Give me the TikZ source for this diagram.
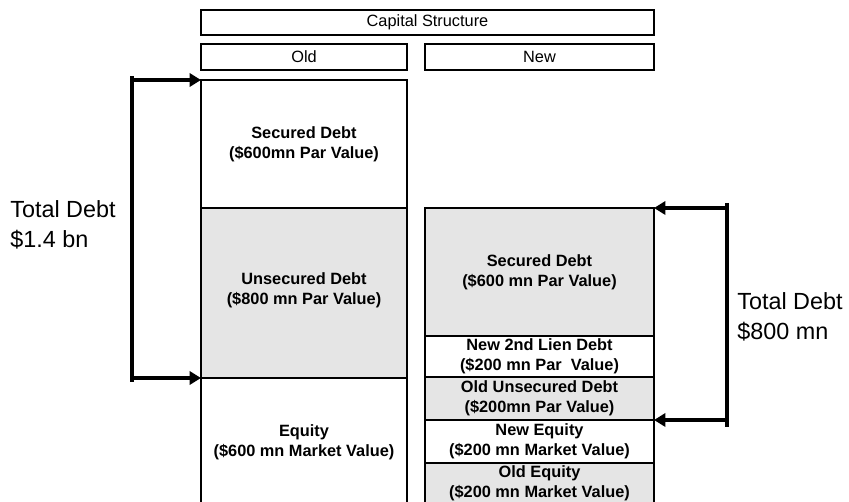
\documentclass[tikz,border=0pt]{standalone}
\usepackage{fontspec}
\setmainfont{Liberation Sans}
\usetikzlibrary{positioning,arrows.meta}

\definecolor{shade}{RGB}{229,229,229}

\tikzset{
	col/.style={draw,line width=0.9pt},
	head/.style={draw,line width=1.3pt},
	txt/.style={align=center,inner sep=0pt,font=\fontsize{9.3}{11.4}\selectfont\bfseries},
	htxt/.style={inner sep=0pt,font=\fontsize{9.3}{11}\selectfont},
	big/.style={align=left,inner sep=0pt,anchor=west,font=\fontsize{13.3}{17}\selectfont},
	bar/.style={line width=2.3pt},
	arr/.style={line width=2.3pt,-{Triangle[length=6.5pt,width=7.5pt]}}
}

\begin{document}
\begin{tikzpicture}[x=0.02cm,y=-0.02cm]
	\useasboundingbox (0,0) rectangle (849,502);
	\clip (0,0) rectangle (849,502);
	
	% headers
	\draw[head] (201,10) rectangle (654,35) node[midway,htxt] (cap) {Capital Structure};
	\draw[head] (201,44) rectangle (407,70) node[midway,htxt] (old) {Old};
	\draw[head] (425,44) rectangle (654,70) node[midway,htxt] (new) {New};
	
	% old structure
	\draw[col] (201,80) rectangle (407,208) node[midway,txt] (osec) {Secured Debt\\(\$600mn Par Value)};
	\draw[col,fill=shade] (201,208) rectangle (407,378) node[midway,txt,yshift=0.06cm] (ouns) {Unsecured Debt\\(\$800 mn Par Value)};
	\draw[col] (201,378) rectangle (407,510);
	\node[txt] (oeq) at (304,442) {Equity\\(\$600 mn Market Value)};
	
	% new structure
	\draw[col,fill=shade] (425,208) rectangle (654,336) node[midway,txt] (nsec) {Secured Debt\\(\$600 mn Par Value)};
	\draw[col] (425,336) rectangle (654,377) node[midway,txt] (nlien) {New 2nd Lien Debt\\(\$200 mn Par~ Value)};
	\draw[col,fill=shade] (425,377) rectangle (654,420) node[midway,txt] (nuns) {Old Unsecured Debt\\(\$200mn Par Value)};
	\draw[col] (425,420) rectangle (654,463) node[midway,txt] (neq) {New Equity\\(\$200 mn Market Value)};
	\draw[col,fill=shade] (425,463) rectangle (654,510);
	\node[txt] (noeq) at (539.5,483) {Old Equity\\(\$200 mn Market Value)};
	
	% total debt brackets
	\coordinate (oTop) at (201,80);
	\coordinate (oBot) at (201,378);
	\coordinate (lTop) at (132,80);
	\coordinate (lBot) at (132,378);
	\draw[bar] ([yshift=0.08cm]lTop) -- ([yshift=-0.08cm]lBot);
	\draw[arr] (lTop) -- (oTop);
	\draw[arr] (lBot) -- (oBot);
	\node[big] (tdold) at (10,225) {Total Debt\\\$1.4 bn};
	
	\coordinate (nTop) at (654,208);
	\coordinate (nBot) at (654,420);
	\coordinate (rTop) at (727,208);
	\coordinate (rBot) at (727,420);
	\draw[bar] ([yshift=0.1cm]rTop) -- ([yshift=-0.14cm]rBot);
	\draw[arr] (rTop) -- (nTop);
	\draw[arr] (rBot) -- (nBot);
	\node[big] (tdnew) at (737,317) {Total Debt\\\$800 mn};
\end{tikzpicture}
\end{document}
